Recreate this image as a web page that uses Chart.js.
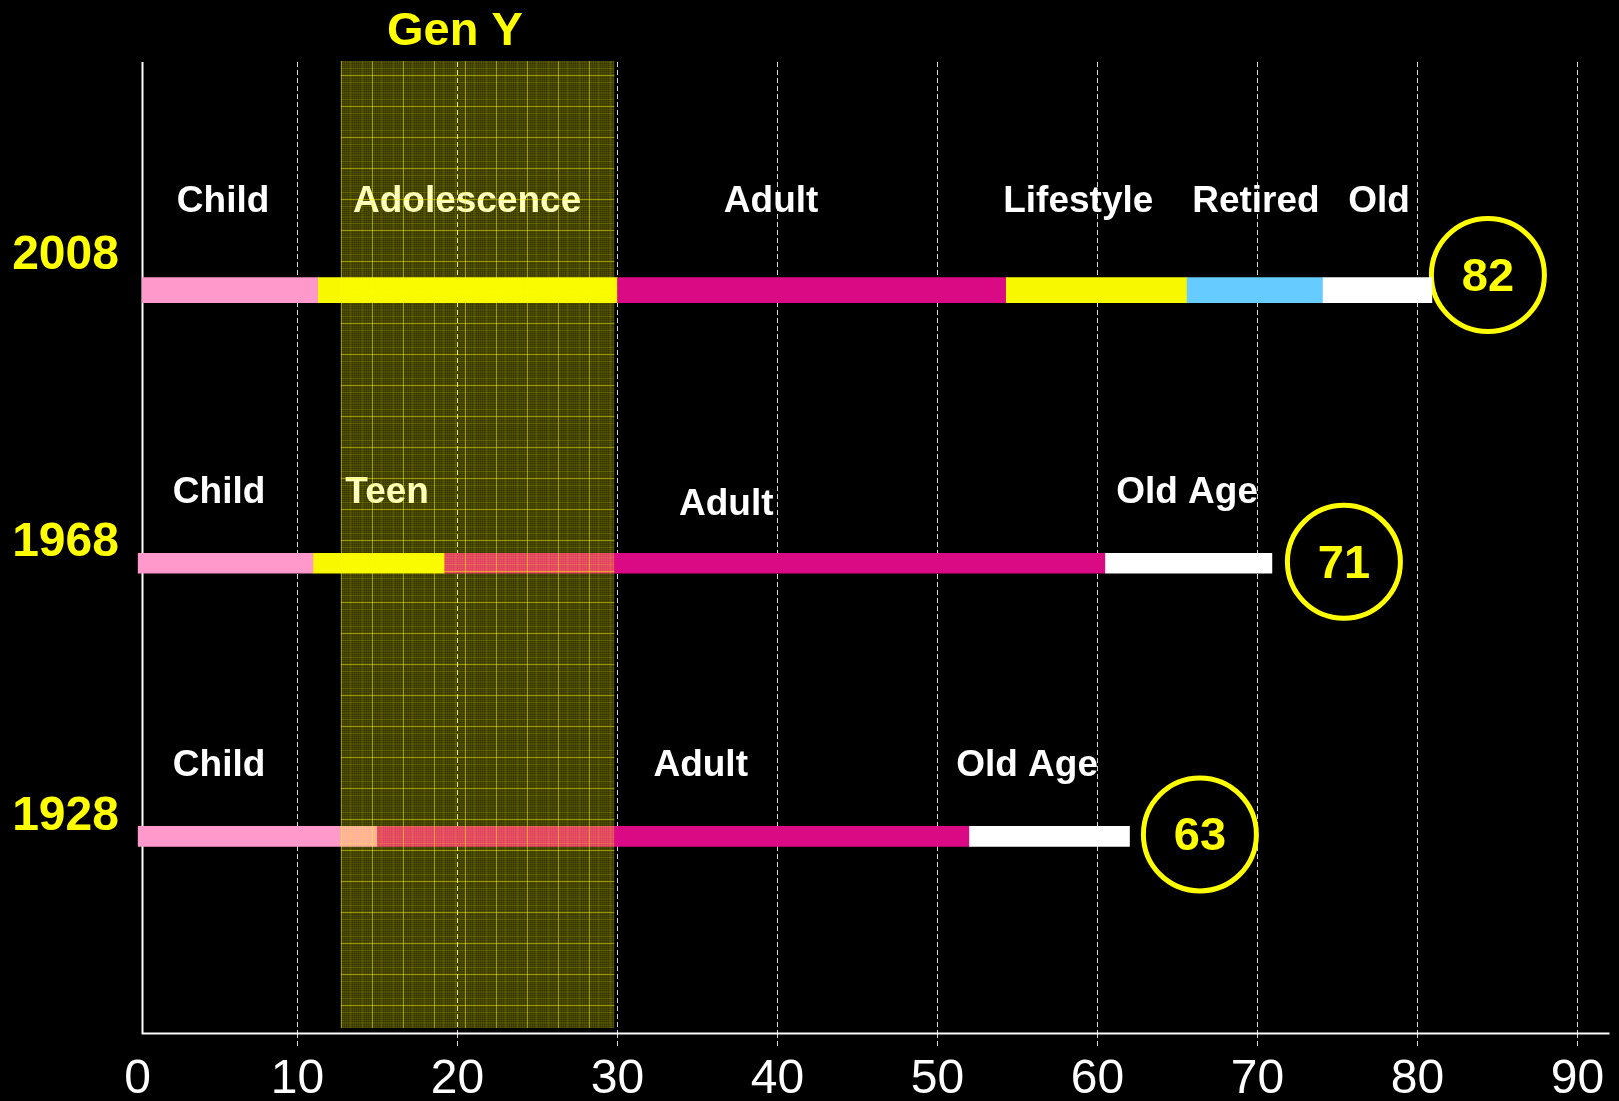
<!DOCTYPE html>
<html>
<head>
<meta charset="utf-8">
<script src="https://cdn.jsdelivr.net/npm/chart.js@4/dist/chart.umd.min.js"></script>
<style>
  html, body { margin: 0; padding: 0; background: #000; }
  #wrap { width: 1619px; height: 1101px; }
</style>
</head>
<body>
<div id="wrap"><canvas id="lifeChart" width="1619" height="1101"></canvas></div>
<script>
// rows of the chart
const rowYears = ['2008', '1968', '1928'];
const lifeExpectancy = [82, 71, 63];

// stage boundaries (age in years) for each row
const stages2008 = [0.3, 11.3, 30, 54.3, 65.6, 74.1, 80.9];
const stages1968 = [0, 11, 19.2, 60.5, 70.9];
const stages1928 = [0, 15, 52, 62];

// stage names and where they sit along the age axis
const names2008 = ['Child', 'Adolescence', 'Adult', 'Lifestyle', 'Retired', 'Old'];
const nameAge2008 = [5.35, 20.6, 39.6, 58.8, 69.9, 77.6];
const names1968 = ['Child', 'Teen', 'Adult', 'Old Age'];
const nameAge1968 = [5.1, 15.6, 36.8, 65.6];
const names1928 = ['Child', 'Adult', 'Old Age'];
const nameAge1928 = [5.1, 35.2, 55.6];

// Gen Y band (ages)
const genYRange = [12.7, 29.8];

// x axis ticks
const xTicks = [0, 10, 20, 30, 40, 50, 60, 70, 80, 90];

const PINK = '#ff99cc';
const YELLOW = '#f8f800';
const MAGENTA = '#d90a84';
const BLUE = '#66ccff';
const WHITE = '#ffffff';
const colors2008 = [PINK, YELLOW, MAGENTA, YELLOW, BLUE, WHITE];
const colors1968 = [PINK, YELLOW, MAGENTA, WHITE];
const colors1928 = [PINK, MAGENTA, WHITE];

const FONT = '"Liberation Sans", Arial, Helvetica, sans-serif';

function segments(bounds, row) {
  return bounds.slice(1).map((end, i) => ({ x: [bounds[i], end], y: row }));
}

function barSet(bounds, row, colors, thick) {
  return {
    type: 'bar',
    indexAxis: 'y',
    data: segments(bounds, row),
    backgroundColor: colors,
    borderWidth: 0,
    borderSkipped: false,
    barThickness: thick,
    grouped: false
  };
}

// text layer rows (values in data units)
const yearLabelRow = [-0.135, 0.916, 1.918];
const nameRow = [
  names2008.map(() => -0.333),
  [0.73, 0.73, 0.776, 0.73],
  names1928.map(() => 1.729)
];
const circleAge = [84.4, 75.4, 66.4];
const circleRow = [-0.055, 0.995, 1.993];

function makeTexture(ctx) {
  const n = 31;
  const c = document.createElement('canvas');
  c.width = n; c.height = n;
  const g = c.getContext('2d');
  g.fillStyle = 'rgba(255,255,0,0.21)';
  g.fillRect(0, 0, n, n);
  g.fillStyle = 'rgba(255,255,0,0.07)';
  for (let i = 0; i < n; i += 2) {
    g.fillRect(i, 0, 1, n);
    g.fillRect(0, i, n, 1);
  }
  g.fillStyle = 'rgba(255,255,0,0.12)';
  g.fillRect(9, 0, 1, n); g.fillRect(0, 20, n, 1);
  g.fillRect(21, 0, 1, n); g.fillRect(0, 6, n, 1);
  g.fillStyle = 'rgba(255,255,0,0.45)';
  g.fillRect(0, 0, 1, n);
  g.fillRect(0, 13, n, 1);
  return ctx.createPattern(c, 'repeat');
}

const axisLines = {
  id: 'axisLines',
  beforeDatasetsDraw(chart) {
    const { ctx, chartArea } = chart;
    const x0 = Math.round(chart.scales.x.getPixelForValue(0.28)) + 0.5;
    const yb = Math.round(chartArea.bottom) + 0.5;
    ctx.save();
    ctx.strokeStyle = '#ffffff';
    ctx.lineWidth = 2;
    ctx.beginPath();
    ctx.moveTo(x0, chartArea.top);
    ctx.lineTo(x0, yb);
    ctx.lineTo(chartArea.right, yb);
    ctx.stroke();
    ctx.restore();
  }
};

const textLayer = {
  id: 'textLayer',
  afterDatasetsDraw(chart) {
    const { ctx, chartArea } = chart;
    const x = chart.scales.x, y = chart.scales.y;
    const dy = 3;
    ctx.save();
    ctx.textAlign = 'center';
    ctx.textBaseline = 'middle';

    // stage names
    ctx.fillStyle = '#ffffff';
    ctx.font = 'bold 37px ' + FONT;
    [[names2008, nameAge2008], [names1968, nameAge1968], [names1928, nameAge1928]].forEach((r, ri) => {
      r[0].forEach((n, i) => {
        ctx.fillText(n, x.getPixelForValue(r[1][i]), y.getPixelForValue(nameRow[ri][i]) + dy);
      });
    });

    // year labels
    ctx.fillStyle = '#ffff00';
    ctx.font = 'bold 48px ' + FONT;
    ctx.textAlign = 'right';
    rowYears.forEach((yr, i) => {
      ctx.fillText(yr, x.getPixelForValue(-1.16), y.getPixelForValue(yearLabelRow[i]) + dy);
    });

    // life expectancy numbers inside circles
    ctx.textAlign = 'center';
    ctx.font = 'bold 47px ' + FONT;
    const meta = chart.getDatasetMeta(3);
    meta.data.forEach((pt, i) => {
      ctx.fillText(String(lifeExpectancy[i]), pt.x, pt.y + 3);
    });

    // Gen Y title
    ctx.font = 'bold 47px ' + FONT;
    ctx.fillText('Gen Y', x.getPixelForValue(19.84), y.getPixelForValue(-0.956) + dy);

    // Gen Y band, drawn over everything it covers
    const x0 = x.getPixelForValue(genYRange[0]);
    const x1 = x.getPixelForValue(genYRange[1]);
    ctx.fillStyle = makeTexture(ctx);
    ctx.fillRect(x0, chartArea.top - 1, x1 - x0, chartArea.bottom - chartArea.top - 4);
    ctx.restore();
  }
};

const ctx = document.getElementById('lifeChart').getContext('2d');
new Chart(ctx, {
  type: 'bar',
  data: {
    datasets: [
      barSet(stages2008, 0, colors2008, 25),
      barSet(stages1968, 1, colors1968, 20),
      barSet(stages1928, 2, colors1928, 20),
      {
        type: 'scatter',
        data: circleAge.map((a, i) => ({ x: a, y: circleRow[i] })),
        pointRadius: 56.5,
        pointHoverRadius: 56.5,
        borderWidth: 5,
        borderColor: '#ffff00',
        backgroundColor: 'rgba(0,0,0,0)'
      }
    ]
  },
  options: {
    responsive: false,
    devicePixelRatio: 1,
    animation: false,
    events: [],
    layout: { autoPadding: false, padding: { left: 137.5, top: 62, right: 9.5, bottom: 0 } },
    plugins: {
      legend: { display: false },
      tooltip: { enabled: false }
    },
    scales: {
      x: {
        type: 'linear',
        min: 0,
        max: 92,
        offset: false,
        afterBuildTicks: (s) => { s.ticks = xTicks.map(v => ({ value: v })); },
        afterFit: (s) => {
          s.height = 68;
          s.paddingLeft = 0;
          s.paddingRight = 0;
        },
        grid: {
          offset: false,
          color: (c) => (c.tick && c.tick.value === 0 ? 'rgba(0,0,0,0)' : '#d8d8d8'),
          lineWidth: 1,
          tickLength: 16,
          tickBorderDash: [5, 3]
        },
        border: { display: false, dash: [5, 3] },
        ticks: {
          color: '#ffffff',
          font: { size: 48, family: FONT },
          padding: 2,
          maxRotation: 0,
          autoSkip: false,
          labelOffset: (c) => (c.index === 0 ? 14 : 0)
        }
      },
      y: {
        type: 'linear',
        min: -0.835,
        max: 2.72,
        reverse: true,
        offset: false,
        ticks: { display: false },
        grid: { display: false, drawTicks: false, offset: false },
        border: { display: false },
        afterFit: (s) => { s.width = 0; }
      }
    }
  },
  plugins: [axisLines, textLayer]
});
</script>
</body>
</html>
